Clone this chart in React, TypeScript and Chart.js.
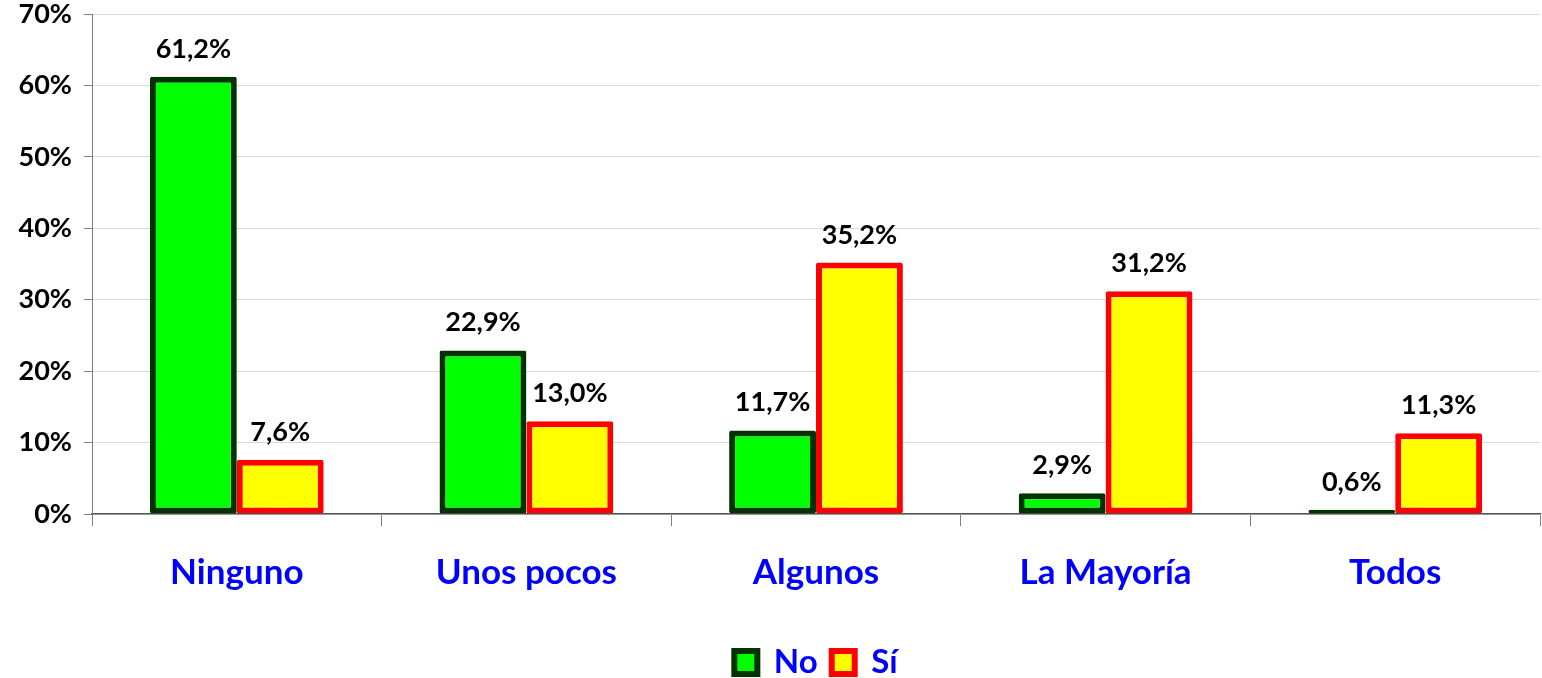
import React, { useEffect, useRef } from "react";
import { Chart, registerables } from "chart.js";

Chart.register(...registerables);

const categories = ["Ninguno", "Unos pocos", "Algunos", "La Mayoría", "Todos"];
const noValues = [61.2, 22.9, 11.7, 2.9, 0.6];
const siValues = [7.6, 13.0, 35.2, 31.2, 11.3];
const seriesNames = ["No", "Sí"];

const FONT = "Lato, 'Open Sans', sans-serif";

const dataLabelPlugin = {
  id: "dataLabels",
  afterDatasetsDraw(chart: any) {
    const ctx = chart.ctx;
    ctx.save();
    ctx.font = `bold 27px ${FONT}`;
    ctx.fillStyle = "#000";
    ctx.textAlign = "center";
    ctx.textBaseline = "alphabetic";
    chart.data.datasets.forEach((ds: any, i: number) => {
      const meta = chart.getDatasetMeta(i);
      meta.data.forEach((bar: any, j: number) => {
        const v = ds.data[j] as number;
        const txt = v.toFixed(1).replace(".", ",") + "%";
        ctx.fillText(txt, bar.x, bar.y - 19);
      });
    });
    ctx.restore();
  },
};

export default function App() {
  const ref = useRef<HTMLCanvasElement>(null);
  useEffect(() => {
    document.body.style.margin = "0";
    const chart = new Chart(ref.current!, {
      type: "bar",
      data: {
        labels: categories,
        datasets: [
          {
            label: seriesNames[0],
            data: noValues,
            backgroundColor: "#00FF00",
            borderColor: "#003300",
            borderWidth: 6,
            borderSkipped: false,
            borderRadius: 2,
          },
          {
            label: seriesNames[1],
            data: siValues,
            backgroundColor: "#FFFF00",
            borderColor: "#FF0000",
            borderWidth: 6,
            borderSkipped: false,
            borderRadius: 2,
          },
        ],
      },
      options: {
        animation: false,
        responsive: false,
        layout: { padding: { top: 0, right: 2, left: 0, bottom: -11 } },
        datasets: { bar: { categoryPercentage: 0.6, barPercentage: 1 } },
        plugins: {
          tooltip: { enabled: false },
          legend: {
            position: "bottom",
            fullSize: false,
            labels: {
              color: "#0000FF",
              font: { family: FONT, size: 33, weight: "bold" },
              boxWidth: 23,
              boxHeight: 23,
              padding: 14,
              generateLabels(chart: any) {
                return chart.data.datasets.map((ds: any, i: number) => ({
                  text: ds.label,
                  fillStyle: ds.backgroundColor,
                  strokeStyle: ds.borderColor,
                  lineWidth: 6,
                  fontColor: "#0000FF",
                  datasetIndex: i,
                  hidden: false,
                }));
              },
            },
          },
        },
        scales: {
          x: {
            afterFit(scale: any) {
              scale.height = 118;
            },
            grid: {
              offset: true,
              drawOnChartArea: false,
              drawTicks: true,
              tickLength: 12,
              tickColor: "#808080",
            },
            border: { color: "#555", width: 1.5 },
            ticks: {
              color: "#0000FF",
              font: { family: FONT, size: 35, weight: "bold" },
              padding: 26,
            },
          },
          y: {
            min: 0,
            max: 70,
            afterFit(scale: any) {
              scale.width = 92;
              scale.paddingTop = 14;
              scale.paddingBottom = 0;
            },
            grid: {
              color: "#d9d9d9",
              tickLength: 8,
              tickColor: "#808080",
            },
            border: { color: "#808080" },
            ticks: {
              stepSize: 10,
              color: "#000",
              font: { family: FONT, size: 27, weight: "bold" },
              padding: 12,
              callback: (v: any) => v + "%",
            },
          },
        },
      },
      plugins: [dataLabelPlugin],
    });
    return () => chart.destroy();
  }, []);
  return <canvas ref={ref} width={1542} height={678} style={{ display: "block" }} />;
}
